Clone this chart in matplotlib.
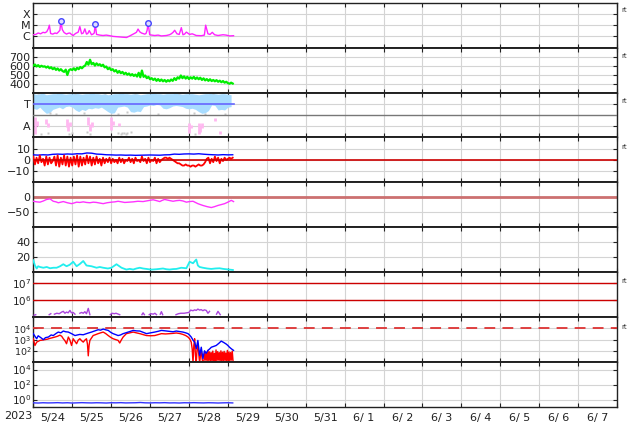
import numpy as np
import matplotlib
matplotlib.use("Agg")
import matplotlib.pyplot as plt
from matplotlib.ticker import NullLocator, FixedLocator

# ---------------- data (time in hours from 2023-05-24 00:00) ----------------
date_labels = ["5/24", "5/25", "5/26", "5/27", "5/28", "5/29", "5/30", "5/31",
               "6/ 1", "6/ 2", "6/ 3", "6/ 4", "6/ 5", "6/ 6", "6/ 7"]

# X-ray flux (W/m^2)
xray_t = [0, 1.5, 3, 4.5, 6, 7.2, 8.3, 9.3, 9.9, 10.7, 12, 13.4, 14.5, 15.4, 16.4, 17.0,
          17.9, 19, 20.5, 21.5, 22.6, 23.5, 24.6, 26, 27.7, 28.7, 29.8, 30.8, 31.8, 32.8,
          33.6, 34.5, 35.9, 36.8, 37.6, 38.2, 39.0, 41, 43, 45, 47.2, 49.2, 51, 53, 55,
          57.5, 59.5, 61.6, 62.6, 63.6, 64.6, 65.6, 66.7, 68.7, 69.5, 70.2, 70.8, 71.8, 73,
          74.9, 77, 79.0, 82.1, 84, 85.1, 86.2, 87.2, 88.6, 90, 91.3, 92.3, 93.3, 94.4,
          96.4, 98, 100.5, 103.6, 105.5, 106.3, 107.7, 109, 110.4, 111.8, 113.9, 117.0,
          119, 121.0, 123.5]
xray_v = [1.4e-6, 1.5e-6, 2.0e-6, 1.7e-6, 2.3e-6, 2.1e-6, 2.6e-6, 5.0e-6, 1.0e-5, 1.8e-6,
          1.6e-6, 2.0e-6, 1.8e-6, 2.4e-6, 3.5e-6, 2.0e-5, 4.0e-6, 2.2e-6, 1.6e-6, 1.9e-6,
          2.0e-6, 1.5e-6, 1.2e-6, 1.8e-6, 2.4e-6, 7.5e-6, 1.7e-6, 2.0e-6, 4.7e-6, 1.6e-6,
          1.8e-6, 3.3e-6, 1.4e-6, 1.6e-6, 2.0e-6, 1.3e-5, 1.5e-6, 1.3e-6, 1.2e-6, 1.3e-6,
          1.15e-6, 1.0e-6, 0.95e-6, 0.9e-6, 0.85e-6, 0.8e-6, 1.1e-6, 1.6e-6, 1.9e-6, 2.3e-6,
          4.5e-6, 2.6e-6, 2.0e-6, 1.6e-6, 1.8e-6, 3.5e-6, 1.5e-5, 1.4e-6, 1.3e-6, 1.2e-6,
          1.3e-6, 1.1e-6, 1.2e-6, 1.4e-6, 1.7e-6, 2.3e-6, 3.5e-6, 1.7e-6, 1.5e-6, 6.0e-6,
          1.4e-6, 1.6e-6, 2.4e-6, 1.5e-6, 1.7e-6, 1.2e-6, 1.15e-6, 1.3e-6, 1.0e-5, 1.7e-6,
          1.5e-6, 2.3e-6, 1.4e-6, 1.2e-6, 1.4e-6, 1.3e-6, 1.1e-6, 1.15e-6]
flare_t = [17.0, 38.2, 70.8]
flare_v = [2.2e-5, 1.35e-5, 1.65e-5]

# hourly time axis for dense series
hours = list(range(124))

# Solar wind speed (km/s), hourly
wind_v = [600, 612, 590, 605, 585, 598, 588, 592, 578, 590, 570, 582,
          560, 575, 552, 568, 545, 560, 540, 530, 555, 495, 548, 560,
          550, 570, 548, 575, 560, 585, 570, 590, 600, 640, 610, 665,
          615, 630, 600, 625, 605, 615, 595, 610, 580, 590, 560, 575,
          550, 560, 535, 550, 520, 540, 515, 530, 505, 520, 498, 512,
          490, 505, 485, 500, 478, 520, 470, 545, 475, 490, 460, 475,
          448, 460, 440, 455, 430, 450, 428, 445, 425, 440, 420, 438,
          425, 445, 430, 460, 440, 470, 455, 490, 460, 480, 455, 475,
          450, 470, 455, 475, 450, 468, 448, 465, 440, 458, 435, 450,
          430, 448, 428, 440, 425, 438, 420, 432, 415, 428, 410, 420,
          405, 398, 410, 400]

# T / A panel
tband_t = list(range(0, 124, 2))
tband_lo = [2.6, 2.5, 2.7, 2.4, 2.15, 2.2, 2.5, 2.6, 2.7, 2.55, 2.75, 2.8, 2.7, 2.45, 2.3,
            2.5, 2.4, 2.6, 2.55, 2.65, 2.6, 2.7, 2.5, 2.3, 2.15, 2.2, 2.7, 2.75, 2.8, 2.7,
            2.3, 2.25, 2.35, 2.3, 2.75, 2.8, 2.9, 2.85, 2.95, 2.9, 2.6, 2.55, 2.65, 2.8,
            2.85, 2.8, 2.75, 2.6, 2.55, 2.6, 2.5, 2.3, 2.15, 2.2, 2.4, 2.9, 2.85, 2.45, 2.5,
            2.45, 2.7, 2.75]
tband_hi = [3.9, 3.85, 3.9, 3.95, 3.8, 3.85, 3.9, 3.9, 3.95, 3.9, 3.85, 3.9, 3.9, 3.95,
            3.9, 3.85, 3.9, 3.9, 3.95, 3.9, 3.9, 3.85, 3.9, 3.8, 3.85, 3.9, 3.9, 3.95, 3.9,
            3.9, 3.85, 3.9, 3.9, 3.8, 3.85, 3.9, 3.9, 3.95, 3.9, 3.9, 3.85, 3.9, 3.9, 3.9,
            3.95, 3.9, 3.85, 3.9, 3.9, 3.9, 3.85, 3.8, 3.85, 3.9, 3.9, 3.95, 3.9, 3.85,
            3.9, 3.9, 3.85, 3.8]
tgray_t = [3, 10, 14, 26, 31, 44, 52, 58, 63, 77, 90, 99, 106, 111, 118]
tgray_v = [3.95, 2.2, 2.1, 3.95, 2.2, 3.95, 2.1, 2.25, 3.95, 2.1, 3.95, 2.2, 2.05, 3.95, 2.1]
apink_t = [1, 2.5, 8, 9, 20.5, 21.5, 22.5, 34, 35, 36, 48, 49, 53, 96, 97, 102, 103, 104,
           112, 115]
apink_lo = [0.3, 1.0, 1.2, 0.9, 0.9, 0.6, 1.0, 1.1, 0.6, 0.9, 0.7, 1.1, 1.0, 0.4, 0.8, 0.3,
            0.5, 0.8, 1.5, 0.3]
apink_hi = [1.85, 1.5, 1.6, 1.3, 1.6, 1.3, 1.4, 1.8, 1.2, 1.4, 1.8, 1.5, 1.3, 1.3, 1.1, 1.3,
            1.0, 1.3, 1.7, 0.6]
agray_t = [5, 9, 22, 24, 33, 35, 52, 54, 55, 56, 57, 58, 60, 100]
agray_v = [0.35, 0.4, 0.35, 0.4, 0.5, 0.35, 0.4, 0.35, 0.4, 0.4, 0.35, 0.4, 0.45, 0.35]

# IMF Bz (hourly) and Bt (3-hourly), nT
bz_v = [3, -4, 2, -3, 4, -2, 1, -5, 3, -4, 2, -3,
        -1, 3, -5, 4, -6, 2, -4, 4, -5, 3, -6, 2,
        -5, 3, -4, 4, -6, 3, -5, 2, -4, 4, -3, 3,
        -5, 2, -4, 3, -3, 1, -5, 2, -3, 1, -2, 2,
        -3, 1, -2, 0, -3, 2, -2, 1, -3, 0, -1, 2,
        -2, 1, -3, 2, -1, 0, -2, 3, -1, 1, -3, 2,
        -2, 0, -1, 2, -3, 1, -2, 0, 1, 2, 2, 1,
        2, 1, 0, -1, -2, -3, -3, -4, -5, -5, -4, -5,
        -5, -6, -5, -5, -6, -5, -4, -5, -5, -4, -2, 1,
        2, -3, 1, -2, 3, -1, 2, -3, 1, -1, 2, 0,
        1, 2, 1, 2]
bt_t = [0, 3, 6, 9, 12, 15, 18, 21, 24, 27, 30, 33, 36, 39, 42, 45, 48, 51, 54, 57, 60, 63,
        66, 69, 72, 75, 78, 81, 84, 87, 90, 93, 96, 99, 102, 105, 108, 111, 114, 117, 120, 123]
bt_v = [4.5, 4.3, 4.6, 4.4, 5.0, 5.2, 5.0, 5.3, 5.1, 5.5, 5.4, 6.2, 6.0, 5.2, 5.0, 4.6, 4.5,
        4.3, 4.4, 4.2, 4.3, 4.1, 4.2, 4.3, 4.4, 4.3, 4.2, 4.5, 4.6, 5.2, 5.0, 5.3, 5.4, 5.2,
        5.5, 5.1, 4.8, 4.6, 4.4, 4.7, 4.5, 4.6]

# Dst (nT)
dst_t = [0.0, 2.0, 4.1, 6.2, 8.2, 10.3, 12.3, 14.0, 15.4, 17.0, 18.5, 21.0, 23.6, 25.0, 26.7,
         28.7, 30.8, 32.8, 34.9, 37.0, 39.0, 41.0, 43.1, 45.5, 48.2, 50.3, 52.3, 54.4, 56.4,
         59.0, 61.6, 64.5, 67.7, 70.8, 73.9, 76.0, 78.0, 79.5, 81.0, 83.5, 86.2, 88.2, 90.3,
         92.3, 94.4, 96.4, 98.5, 100.0, 101.5, 103.0, 104.6, 107.2, 109.8, 111.8, 113.9,
         116.0, 118.0, 120.0, 122.1, 123.5]
dst_v = [-13, -15, -16, -12, -7, -5, -13, -15, -18, -16, -14, -18, -21, -19, -16, -17, -15,
         -17, -18, -16, -17, -19, -21, -18, -16, -15, -13, -15, -17, -16, -15, -13, -14, -11,
         -8, -11, -14, -10, -7, -10, -13, -11, -10, -12, -16, -14, -13, -17, -21, -24, -27,
         -31, -34, -31, -27, -24, -21, -16, -10, -14]

# Cyan panel
cyan_t = [0, 1.0, 2.1, 3.0, 4.1, 6.2, 8.3, 10.3, 12.4, 14.4, 16.5, 18.5, 20.5, 22.5, 24.6,
          26.7, 28.7, 30.8, 32.8, 35.9, 39.0, 41.0, 43.1, 46.0, 48.2, 51.3, 54.4, 57.4, 59.5,
          61.6, 63.6, 65.7, 67.7, 69.8, 72.8, 75.9, 78.0, 80.0, 82.1, 84.1, 86.2, 88.2, 91.3,
          94.4, 96.4, 98.5, 100.5, 101.5, 102.6, 104.6, 107.2, 109.8, 112.3, 114.9, 117.0,
          119.0, 121.0, 123.1]
cyan_v = [16, 9, 5, 8, 7, 6, 7, 5.3, 6, 6, 8, 10.7, 8, 10, 14, 8, 11, 15, 9, 8, 6, 7, 6,
          5, 6, 10.7, 6, 3.6, 4.5, 3.6, 5, 6, 5, 4.4, 3.5, 4, 4.5, 5, 4, 3.6, 4.2, 4.4, 6,
          5.3, 14, 12, 17, 9, 7, 6, 5, 4.4, 5, 5.3, 4.5, 4, 3.5, 3]

# Purple panel (gaps as nan)
nan = float("nan")
purp_t = [0.5, 1.5, nan, 9.8, 10.8, nan, 13, 14.5, 16, 17.5, 18.5, 19.5, 20.5, 21.5, 22.6,
          23.5, 24.6, 25.7, nan, 28.7, 29.8, 30.8, 31.8, 32.8, 33.9, 34.9, nan, 47.5, 48.5,
          50, 51, 52.5, 53.3, nan, 67, 67.7, 68.5, nan, 71.5, 72.5, 74, 75, 76, nan, 78.3,
          79.0, 79.8, nan, 88, 89.5, 91, 93, 94.5, 96, 97, 98.5, 99.5, 100.5, 101.5, 102.6,
          103.5, 104.6, 105.5, 106.7, 107.7, 108.7, nan, 113, 113.9, 115.3]
purp_v = [1.3e5, 1.4e5, nan, 1.4e5, 1.6e5, nan, 1.5e5, 1.7e5, 1.6e5, 2.0e5, 2.2e5, 1.7e5,
          2.0e5, 1.8e5, 2.5e5, 1.8e5, 1.9e5, 1.5e5, nan, 1.7e5, 1.9e5, 1.7e5, 2.1e5, 1.6e5,
          3.3e5, 1.4e5, nan, 1.4e5, 1.7e5, 1.6e5, 1.7e5, 1.5e5, 1.4e5, nan, 1.4e5, 1.8e5,
          1.4e5, nan, 1.4e5, 1.6e5, 1.5e5, 1.7e5, 1.4e5, nan, 1.5e5, 2.1e5, 1.4e5, nan,
          1.4e5, 1.6e5, 1.7e5, 1.7e5, 1.8e5, 1.9e5, 2.6e5, 2.4e5, 2.7e5, 2.5e5, 3.0e5,
          2.6e5, 2.8e5, 2.4e5, 2.7e5, 2.5e5, 1.7e5, 2.2e5, nan, 1.5e5, 2.2e5, 1.4e5]

# Particle flux panel (blue, red)
pb_t = [0.0, 1.0, 2.1, 3.0, 4.1, 5.2, 6.2, 7.5, 9.3, 11.0, 12.3, 14.0, 15.4, 17.0, 18.5,
        20.0, 21.6, 23.6, 25.7, 27.2, 28.7, 30.8, 32.8, 34.3, 35.9, 38.0, 40.0, 41.5, 43.1,
        44.6, 46.2, 47.7, 49.2, 50.8, 52.3, 53.8, 55.4, 57.0, 58.5, 60.0, 61.6, 63.6, 65.7,
        67.7, 69.8, 72.3, 74.9, 77.0, 79.0, 81.5, 84.1, 86.2, 88.2, 90.3, 92.3, 94.0, 95.4,
        96.4, 97.4, 98.5, 99.5, 100.5, 101.5, 102.6, 103.6, 104.6, 105.6, 106.6, 107.7,
        108.8, 109.8, 111.3, 112.8, 114.3, 115.9, 117.5, 119.0, 120.0, 121.0, 122.2, 123.5]
pb_v = [3.4e3, 2.0e3, 1.2e3, 2.2e3, 1.7e3, 1.3e3, 1.0e3, 1.5e3, 1.7e3, 2.6e3, 2.3e3, 3.5e3,
        4.7e3, 4.0e3, 5.8e3, 5.0e3, 4.7e3, 3.4e3, 2.3e3, 2.6e3, 2.9e3, 2.7e3, 3.4e3, 4.0e3,
        4.7e3, 6.0e3, 7.6e3, 7.0e3, 8.7e3, 7.5e3, 6.6e3, 4.5e3, 3.4e3, 2.8e3, 2.3e3, 2.6e3,
        3.4e3, 4.0e3, 4.7e3, 5.5e3, 6.6e3, 6.0e3, 5.8e3, 4.5e3, 3.4e3, 4.0e3, 4.7e3, 5.5e3,
        6.6e3, 6.0e3, 5.4e3, 5.0e3, 5.8e3, 5.2e3, 4.7e3, 4.0e3, 3.4e3, 2.5e3, 1.7e3, 900,
        600, 155, 850, 39, 210, 20, 100, 60, 110, 150, 210, 250, 300, 450, 740, 550, 400,
        300, 210, 150, 110]
pr_t = [0.0, 1.0, 2.1, 3.0, 4.1, 5.5, 7.2, 8.8, 10.3, 12.0, 13.4, 15.0, 16.4, 17.5, 18.5,
        19.5, 20.5, 21.6, 22.6, 23.6, 24.6, 25.7, 26.7, 27.7, 28.7, 29.8, 30.8, 31.8, 32.8,
        33.4, 33.9, 34.4, 34.9, 36.9, 38.5, 40.0, 41.5, 43.1, 44.6, 46.2, 47.7, 49.2, 50.8,
        52.3, 53.3, 54.4, 55.4, 57.4, 59.5, 61.6, 63.6, 65.7, 67.7, 69.8, 72.3, 74.9, 77.0,
        79.0, 81.5, 84.1, 86.2, 88.2, 90.3, 92.3, 94.0, 95.4, 96.4, 97.4, 98.0, 98.5, 99.0,
        99.5, 100.0, 100.5, 101.0, 101.5, 102.0, 102.6, 103.1, 103.6, 104.1, 104.6,
        105.2, 105.7, 106.2, 106.7, 107.2, 107.7, 108.2, 108.7, 109.2, 109.7, 110.2, 110.7,
        111.2, 111.7, 112.2, 112.7, 113.2, 113.7, 114.2, 114.7, 115.2, 115.7, 116.2, 116.7,
        117.2, 117.7, 118.2, 118.7, 119.2, 119.7, 120.2, 120.7, 121.2, 121.7, 122.2, 122.7,
        123.2]
pr_v = [1.2e3, 300, 600, 700, 850, 900, 1.0e3, 1.1e3, 1.3e3, 1.5e3, 1.7e3, 2.0e3, 2.5e3,
        2.0e3, 1.2e3, 800, 430, 1.7e3, 900, 300, 1.2e3, 700, 430, 900, 1.2e3, 800, 600,
        900, 1.2e3, 400, 36, 300, 850, 2.3e3, 2.8e3, 3.4e3, 4.0e3, 4.7e3, 3.5e3, 2.3e3,
        1.6e3, 1.2e3, 1.0e3, 850, 500, 1.0e3, 1.7e3, 3.4e3, 4.0e3, 4.7e3, 4.0e3, 3.4e3,
        2.8e3, 2.3e3, 2.2e3, 2.3e3, 2.8e3, 3.4e3, 3.2e3, 3.4e3, 3.6e3, 3.9e3, 3.5e3, 2.9e3,
        2.3e3, 1.7e3, 1.2e3, 600, 150, 8, 300, 1.2e3, 40, 8, 150, 400, 60, 8, 40, 100, 20,
        8, 12, 90, 15, 60, 11, 110, 14, 80, 12, 70, 13, 95, 11, 60, 14, 120, 12, 85, 15,
        70, 11, 100, 13, 75, 12, 90, 14, 65, 11, 110, 13, 80, 12, 70, 15, 95, 12]

# Bottom panel (blue)
low_t = [0, 3, 6, 9, 12, 15, 18, 21, 24, 27, 30, 33, 36, 39, 42, 45, 48, 51, 54, 57, 60, 63,
         66, 69, 72, 75, 78, 81, 84, 87, 90, 93, 96, 99, 102, 105, 108, 111, 114, 117, 120, 123]
low_v = [0.36, 0.34, 0.37, 0.35, 0.36, 0.38, 0.35, 0.37, 0.34, 0.36, 0.38, 0.36, 0.35, 0.37,
         0.36, 0.34, 0.37, 0.36, 0.38, 0.35, 0.36, 0.37, 0.40, 0.36, 0.35, 0.37, 0.36, 0.38,
         0.35, 0.36, 0.34, 0.37, 0.36, 0.38, 0.36, 0.35, 0.37, 0.36, 0.34, 0.36, 0.37, 0.35]

# ---------------- figure ----------------
W, H = 634, 424
fig = plt.figure(figsize=(W / 100, H / 100), dpi=100)
left, right = 33.3 / W, 617 / W
top, bottom = 1 - 2.7 / H, 1 - 407 / H
n = 9
ph = (top - bottom) / n
axes = []
for i in range(n):
    ax = fig.add_axes([left, top - (i + 1) * ph, right - left, ph])
    axes.append(ax)

GRID = "#d4d4d4"
FS = 8
FS_LOG = 7.5
for i, ax in enumerate(axes):
    ax.set_xlim(0, 360)
    ax.xaxis.set_major_locator(FixedLocator(list(range(0, 361, 24))))
    ax.xaxis.set_minor_locator(NullLocator())
    ax.grid(True, which="major", color=GRID, linewidth=0.8, zorder=0)
    ax.set_axisbelow(True)
    ax.tick_params(axis="both", which="major", direction="in", length=3, width=0.8,
                   labelsize=FS, left=True, right=True, top=True, bottom=True,
                   labelbottom=False, pad=2, colors="#222222")
    ax.tick_params(axis="y", which="minor", left=False, right=False)
    for s in ax.spines.values():
        s.set_linewidth(1.0)
        s.set_color("#222222")
    ax.spines["top"].set_linewidth(1.4 if i > 0 else 1.0)
    ax.spines["bottom"].set_linewidth(1.4 if i < n - 1 else 1.0)

# Panel 1: X-ray
ax = axes[0]
ax.set_yscale("log")
ax.set_ylim(1e-7, 1e-3)
ax.plot(xray_t, xray_v, color="#ff22ff", lw=1.0, zorder=3)
ax.plot(flare_t, flare_v, "o", ms=4.0, mfc="#ddddff", mec="#4444ff", mew=1.0, zorder=4)
ax.yaxis.set_major_locator(FixedLocator([1e-6, 1e-5, 1e-4]))
ax.yaxis.set_minor_locator(NullLocator())
ax.set_yticklabels(["C", "M", "X"])

# Panel 2: solar wind
ax = axes[1]
ax.set_ylim(300, 800)
ax.plot(hours, wind_v, color="#00ee00", lw=1.6, zorder=3)
ax.set_yticks([400, 500, 600, 700])

# Panel 3: T / A
ax = axes[2]
ax.set_ylim(0, 4)
ax.fill_between(tband_t, tband_lo, tband_hi, color="#a8dcff", lw=0, zorder=2)
ax.plot(tgray_t, tgray_v, "s", ms=1.8, color="#c8c8c8", mec="none", zorder=2)
ax.vlines(apink_t, apink_lo, apink_hi, color="#ffb8f0", lw=2.0, zorder=2)
ax.plot(agray_t, agray_v, "s", ms=1.8, color="#c8c8c8", mec="none", zorder=2)
ax.axhline(2, color="#777777", lw=1.0, zorder=3)
ax.plot([0, 123.5], [3, 3], color="#6666ff", lw=1.2, zorder=4)
ax.set_yticks([1, 3])
ax.set_yticklabels(["A", "T"])

# Panel 4: IMF
ax = axes[3]
ax.set_ylim(-20, 20)
ax.plot(bt_t, bt_v, color="#0000ff", lw=1.0, zorder=3)
ax.plot(hours, bz_v, color="#ff0000", lw=1.3, zorder=3)
ax.axhline(0, color="#cc0000", lw=1.2, zorder=4)
ax.set_yticks([-10, 0, 10])

# Panel 5: Dst
ax = axes[4]
ax.set_ylim(-100, 50)
ax.axhline(0, color="#cc7070", lw=2.0, zorder=2)
ax.plot(dst_t, dst_v, color="#ff33ff", lw=1.0, zorder=3)
ax.set_yticks([-50, 0])

# Panel 6: cyan
ax = axes[5]
ax.set_ylim(0, 60)
ax.plot(cyan_t, cyan_v, color="#22eeee", lw=1.3, zorder=3)
ax.set_yticks([20, 40])

# Panel 7: purple
ax = axes[6]
ax.set_yscale("log")
ax.set_ylim(1e5, 4.5e7)
ax.plot(purp_t, purp_v, color="#aa44dd", lw=1.0, zorder=3)
ax.axhline(1e6, color="#cc0000", lw=1.0, zorder=3)
ax.axhline(1e7, color="#cc0000", lw=1.0, zorder=3)
ax.yaxis.set_major_locator(FixedLocator([1e6, 1e7]))
ax.yaxis.set_minor_locator(NullLocator())

# Panel 8: particle flux
ax = axes[7]
ax.set_yscale("log")
ax.set_ylim(10, 1e5)
ax.axhline(1e4, color="#dd3333", lw=1.3, dashes=(6, 4), zorder=3)
ax.plot(pr_t, pr_v, color="#ff0000", lw=1.0, zorder=3)
ax.plot(pb_t, pb_v, color="#0000ff", lw=1.0, zorder=4)
ax.yaxis.set_major_locator(FixedLocator([1e2, 1e3, 1e4]))
ax.yaxis.set_minor_locator(NullLocator())

# Panel 9: bottom
ax = axes[8]
ax.set_yscale("log")
ax.set_ylim(0.1, 1e5)
ax.plot(low_t, low_v, color="#3333ff", lw=1.0, zorder=3)
ax.yaxis.set_major_locator(FixedLocator([1e0, 1e2, 1e4]))
ax.yaxis.set_minor_locator(NullLocator())
ax.xaxis.set_minor_locator(FixedLocator([12 + 24 * k for k in range(len(date_labels))]))
ax.set_xticklabels(date_labels, minor=True)
ax.tick_params(axis="x", which="minor", length=0, labelsize=FS, labelbottom=True, pad=4,
               colors="#222222")

axes[6].tick_params(axis="y", which="major", labelsize=FS_LOG, pad=1.5)
axes[7].tick_params(axis="y", which="major", labelsize=6.8, pad=1.5)
axes[8].tick_params(axis="y", which="major", labelsize=FS_LOG, pad=1.5)

fig.text(18 / W, 1 - 416 / H, "2023", ha="center", va="center", fontsize=FS, color="#222222")

for yp in [10, 56, 101, 147, 281, 327]:
    fig.text(621 / W, 1 - yp / H, "rt", fontsize=5, ha="left", va="center", color="#333333")

fig.savefig("out.png", dpi=100)
